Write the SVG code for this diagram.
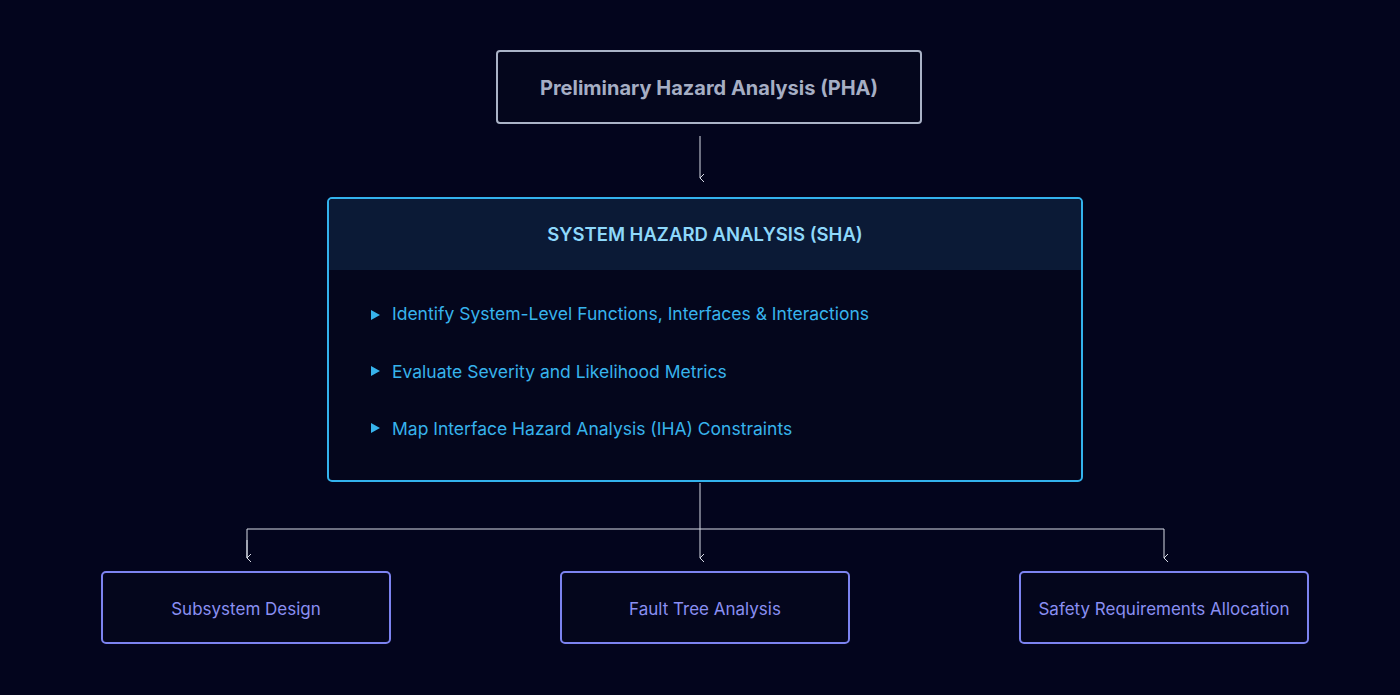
<svg xmlns="http://www.w3.org/2000/svg" width="1400" height="695" viewBox="0 0 1400 695">
<style>
text{font-family:Inter,"Liberation Sans",sans-serif}
.con{fill:none;stroke:#d8dce6;stroke-width:1}
.leaf rect{fill:#04061c;stroke:#7c83f0;stroke-width:2}
.leaf text{fill:#8a8ff2;font-size:17px;text-anchor:middle}
.item{fill:#37b3ec;font-size:17.5px}
.tri{fill:#37b3ec}
</style>
<defs><marker id="ah" markerWidth="10" markerHeight="10" refX="5" refY="9" orient="auto" markerUnits="userSpaceOnUse"><path d="M1,5 L5,9 L9,5" fill="none" stroke="#d8dce6" stroke-width="1"/></marker></defs>
<rect width="1400" height="695" fill="#03051d"/>
<g id="connectors">
<path class="con" d="M700,136 V178" marker-end="url(#ah)"/>
<path class="con" d="M700,483 V558" marker-end="url(#ah)"/>
<path class="con" d="M247,558 V529 H1164 V558" marker-end="url(#ah)"/>
<path class="con" d="M247,540 V558" marker-end="url(#ah)"/>
</g>
<g id="pha">
<rect x="497" y="51" width="424" height="72" rx="3" fill="#04061c" stroke="#aab3c7" stroke-width="2"/>
<text x="709" y="95" text-anchor="middle" font-size="20" font-weight="bold" fill="#a6aec4">Preliminary Hazard Analysis (PHA)</text>
</g>
<g id="sha">
<rect x="328" y="198" width="754" height="283" rx="4" fill="#04061c" stroke="#33b3ed" stroke-width="2"/>
<path d="M329,270 V203 Q329,199 333,199 H1077 Q1081,199 1081,203 V270 Z" fill="#0b1a36"/>
<text x="705" y="241" text-anchor="middle" font-size="18.5" font-weight="600" fill="#8ed8fb">SYSTEM HAZARD ANALYSIS (SHA)</text>
<path class="tri" d="M371,310 L380,315 L371,320 Z"/>
<text class="item" x="392" y="320">Identify System-Level Functions, Interfaces &amp; Interactions</text>
<path class="tri" d="M371,366 L380,371 L371,376 Z"/>
<text class="item" x="392" y="378">Evaluate Severity and Likelihood Metrics</text>
<path class="tri" d="M371,423 L380,428 L371,433 Z"/>
<text class="item" x="392" y="435">Map Interface Hazard Analysis (IHA) Constraints</text>
</g>
<g id="subsystem" class="leaf"><rect x="102" y="572" width="288" height="71" rx="4"/><text x="246" y="615">Subsystem Design</text></g>
<g id="fta" class="leaf"><rect x="561" y="572" width="288" height="71" rx="4"/><text x="705" y="615">Fault Tree Analysis</text></g>
<g id="sra" class="leaf"><rect x="1020" y="572" width="288" height="71" rx="4"/><text x="1164" y="615">Safety Requirements Allocation</text></g>
</svg>
